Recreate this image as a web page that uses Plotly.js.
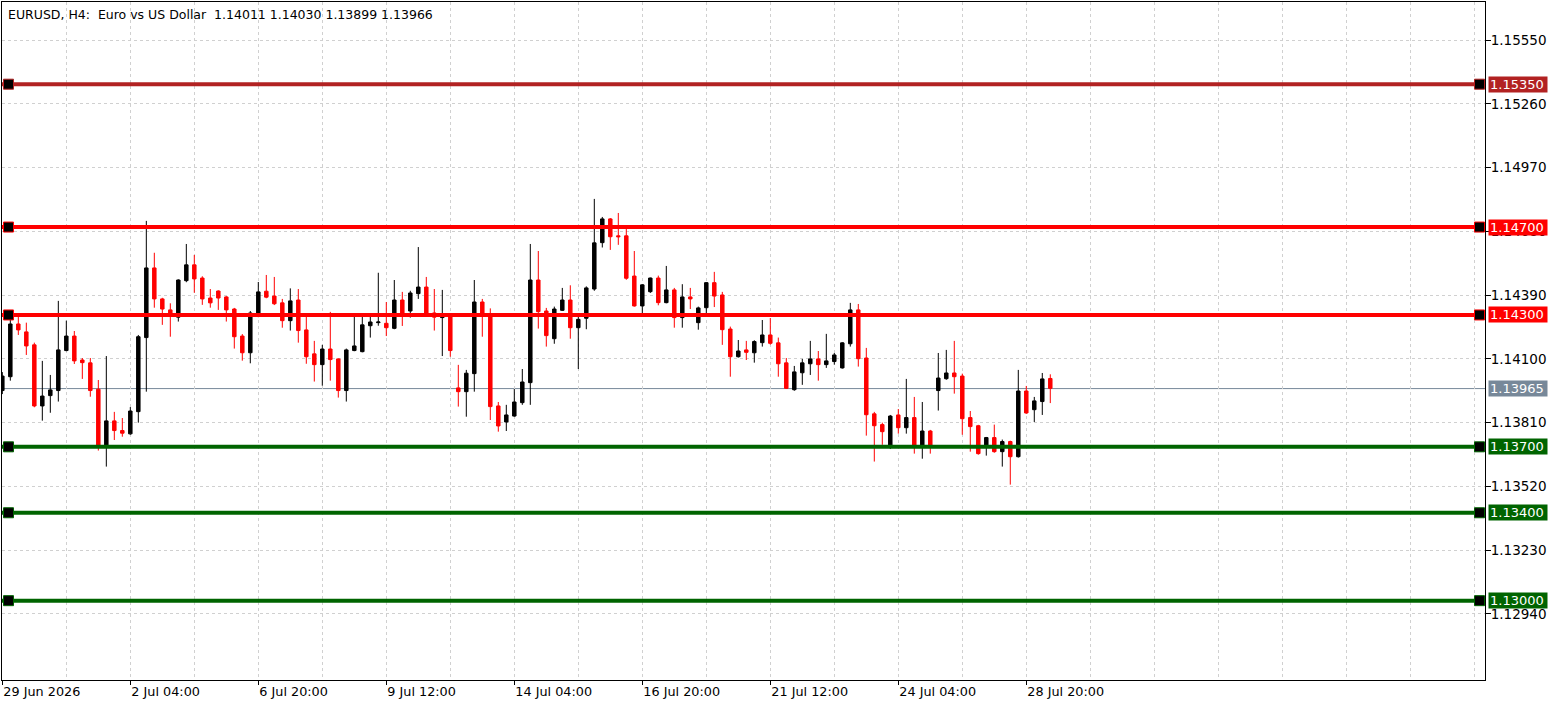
<!DOCTYPE html>
<html><head><meta charset="utf-8">
<script src="https://cdn.plot.ly/plotly-3.0.1.min.js"></script>
<style>html,body{margin:0;padding:0;background:#fff;overflow:hidden;} #chart{width:1563px;height:706px;}</style>
</head><body><div id="chart"></div>
<script>
// H4 candles, EURUSD
const openP = [1.13956,1.14019,1.14259,1.14223,1.14164,1.13886,1.13933,1.13956,1.14138,1.14204,
1.14095,1.14082,1.13962,1.13701,1.13818,1.13774,1.13759,1.13860,1.14197,1.14514,
1.14373,1.14323,1.14290,1.14456,1.14528,1.14468,1.14377,1.14409,1.14382,1.14327,
1.14204,1.14128,1.14309,1.14408,1.14386,1.14355,1.14274,1.14368,1.14232,1.14123,
1.14074,1.14145,1.14100,1.13956,1.14138,1.14133,1.14251,1.14265,1.14262,1.14239,
1.14368,1.14318,1.14397,1.14427,1.14309,1.14288,1.14295,1.13968,1.13951,1.14033,
1.14359,1.14295,1.13886,1.13813,1.13840,1.13901,1.13992,1.14459,1.14318,1.14192,
1.14321,1.14368,1.14242,1.14285,1.14418,1.14629,1.14737,1.14660,1.14660,1.14477,
1.14341,1.14406,1.14468,1.14356,1.14414,1.14288,1.14382,1.14265,1.14333,1.14447,
1.14391,1.14236,1.14110,1.14141,1.14128,1.14174,1.14209,1.14173,1.14082,1.13960,
1.14037,1.14078,1.14100,1.14074,1.14088,1.14059,1.14169,1.14323,1.14104,1.13850,
1.13801,1.13699,1.13845,1.13787,1.13833,1.13699,1.13772,1.13956,1.14010,1.14036,
1.14022,1.13833,1.13796,1.13699,1.13742,1.13678,1.13724,1.13655,1.13954,1.13869,
1.13906,1.14011];
const highP = [1.14040,1.14277,1.14292,1.14265,1.14174,1.14091,1.14027,1.14364,1.14274,1.14227,
1.14104,1.14104,1.14004,1.14113,1.13859,1.13831,1.13881,1.14209,1.14728,1.14583,
1.14378,1.14353,1.14462,1.14623,1.14573,1.14476,1.14418,1.14412,1.14386,1.14332,
1.14213,1.14318,1.14450,1.14482,1.14473,1.14373,1.14421,1.14418,1.14291,1.14182,
1.14164,1.14314,1.14102,1.14147,1.14291,1.14300,1.14295,1.14492,1.14359,1.14459,
1.14405,1.14410,1.14609,1.14473,1.14418,1.14414,1.14300,1.14073,1.14050,1.14459,
1.14373,1.14330,1.13904,1.13891,1.13963,1.14054,1.14623,1.14591,1.14332,1.14338,
1.14423,1.14435,1.14305,1.14430,1.14828,1.14746,1.14741,1.14764,1.14691,1.14591,
1.14440,1.14470,1.14479,1.14523,1.14423,1.14440,1.14423,1.14338,1.14450,1.14496,
1.14405,1.14247,1.14186,1.14182,1.14185,1.14277,1.14286,1.14197,1.14104,1.14068,
1.14100,1.14182,1.14136,1.14214,1.14127,1.14176,1.14355,1.14350,1.14150,1.13859,
1.13810,1.13845,1.13872,1.14009,1.13927,1.13904,1.13777,1.14127,1.14141,1.14182,
1.14033,1.13863,1.13800,1.13745,1.13801,1.13733,1.13728,1.14050,1.13977,1.13927,
1.14036,1.14030];
const lowP = [1.13940,1.14001,1.14209,1.14118,1.13880,1.13819,1.13855,1.13906,1.14135,1.14077,
1.14009,1.13928,1.13683,1.13610,1.13731,1.13746,1.13755,1.13810,1.13951,1.14333,
1.14255,1.14201,1.14270,1.14449,1.14401,1.14346,1.14333,1.14323,1.14270,1.14147,
1.14092,1.14080,1.14290,1.14376,1.14345,1.14242,1.14229,1.14174,1.14078,1.13997,
1.13978,1.14001,1.13924,1.13906,1.14135,1.14130,1.14197,1.14251,1.14204,1.14235,
1.14250,1.14288,1.14373,1.14295,1.14229,1.14113,1.14110,1.13883,1.13837,1.13951,
1.14201,1.13822,1.13769,1.13772,1.13837,1.13891,1.13891,1.14238,1.14156,1.14169,
1.14318,1.14192,1.14054,1.14235,1.14410,1.14607,1.14596,1.14619,1.14460,1.14338,
1.14308,1.14400,1.14344,1.14353,1.14242,1.14242,1.14327,1.14233,1.14308,1.14336,
1.14164,1.14019,1.14106,1.14095,1.14083,1.14156,1.14165,1.14019,1.13963,1.13955,
1.13982,1.14027,1.14001,1.14059,1.14074,1.14056,1.14156,1.14065,1.13751,1.13633,
1.13709,1.13690,1.13760,1.13760,1.13669,1.13646,1.13669,1.13865,1.14005,1.13942,
1.13755,1.13678,1.13664,1.13660,1.13673,1.13610,1.13528,1.13651,1.13850,1.13813,
1.13845,1.13899];
const closeP = [1.14022,1.14259,1.14232,1.14159,1.13886,1.13931,1.13959,1.14141,1.14204,1.14091,
1.14083,1.13956,1.13701,1.13818,1.13774,1.13762,1.13863,1.14201,1.14514,1.14373,
1.14327,1.14300,1.14459,1.14528,1.14464,1.14373,1.14355,1.14377,1.14323,1.14201,
1.14128,1.14309,1.14405,1.14381,1.14351,1.14274,1.14364,1.14229,1.14110,1.14074,
1.14145,1.14097,1.13956,1.14141,1.14159,1.14255,1.14268,1.14268,1.14242,1.14368,
1.14300,1.14400,1.14427,1.14305,1.14290,1.14292,1.14138,1.13951,1.14035,1.14359,
1.14308,1.13883,1.13795,1.13845,1.13904,1.13995,1.14459,1.14315,1.14206,1.14327,
1.14368,1.14242,1.14280,1.14423,1.14628,1.14737,1.14656,1.14656,1.14467,1.14341,
1.14437,1.14468,1.14356,1.14414,1.14288,1.14382,1.14373,1.14332,1.14447,1.14386,
1.14233,1.14110,1.14136,1.14130,1.14179,1.14209,1.14171,1.14078,1.13966,1.14041,
1.14082,1.14100,1.14074,1.14091,1.14118,1.14173,1.14323,1.14101,1.13846,1.13796,
1.13769,1.13840,1.13787,1.13833,1.13704,1.13772,1.13704,1.14013,1.14036,1.14019,
1.13828,1.13792,1.13669,1.13742,1.13678,1.13724,1.13655,1.13954,1.13854,1.13909,
1.14009,1.13966];

const timeTickIndex = [0,16,32,48,64,80,96,112,128];
const timeTickLabels = ['29 Jun 2026','2 Jul 04:00','6 Jul 20:00','9 Jul 12:00','14 Jul 04:00','16 Jul 20:00','21 Jul 12:00','24 Jul 04:00','28 Jul 20:00'];
const priceTicks = [1.15550,1.15260,1.14970,1.14680,1.14390,1.14100,1.13810,1.13520,1.13230,1.12940];
const levelPrices = [1.15350,1.14700,1.14300,1.13700,1.13400,1.13000];
const levelColors = ['#B22222','#FF0000','#FF0000','#006400','#006400','#006400'];
const bidPrice = 1.13965;
const bidColor = '#778899';
const titleText = 'EURUSD, H4:\u00A0\u00A0Euro vs US Dollar\u00A0\u00A01.14011 1.14030 1.13899 1.13966';

const xIdx = openP.map((_, i) => i);
const FONT = 'DejaVu Sans, Tahoma, sans-serif';
const GRID = '#d0d0d0';

const trace = {
  type: 'candlestick',
  x: xIdx, open: openP, high: highP, low: lowP, close: closeP,
  increasing: {line: {color: '#000000', width: 1}, fillcolor: '#000000'},
  decreasing: {line: {color: '#FF0000', width: 1}, fillcolor: '#FF0000'},
  whiskerwidth: 0,
  hoverinfo: 'skip'
};

const shapes = [];
const annotations = [];
// bid line
shapes.push({type:'line', xref:'paper', x0:0, x1:1, yref:'y', y0:bidPrice, y1:bidPrice,
  line:{color:bidColor, width:1}, layer:'below'});
annotations.push({xref:'paper', x:1, xanchor:'left', xshift:3, yref:'y', y:bidPrice, yanchor:'middle',
  text: bidPrice.toFixed(5), showarrow:false, bgcolor:bidColor, font:{family:FONT, size:13, color:'#fff'},
  width:56, height:13, align:'left', borderpad:1});

levelPrices.forEach((p, i) => {
  const c = levelColors[i];
  shapes.push({type:'line', xref:'paper', x0:0, x1:1, yref:'y', y0:p, y1:p, line:{color:c, width:4}});
  shapes.push({type:'rect', xref:'paper', xsizemode:'pixel', xanchor:0, x0:1.5, x1:11.5,
    yref:'y', ysizemode:'pixel', yanchor:p, y0:-5, y1:5, fillcolor:'#000', line:{color:c, width:1}});
  shapes.push({type:'rect', xref:'paper', xsizemode:'pixel', xanchor:1, x0:-10.5, x1:-0.5,
    yref:'y', ysizemode:'pixel', yanchor:p, y0:-5, y1:5, fillcolor:'#000', line:{color:c, width:1}});
  annotations.push({xref:'paper', x:1, xanchor:'left', xshift:3, yref:'y', y:p, yanchor:'middle',
    text: p.toFixed(5), showarrow:false, bgcolor:c, font:{family:FONT, size:13, color:'#fff'},
    width:56, height:13, align:'left', borderpad:1});
});

annotations.push({xref:'paper', x:0, xanchor:'left', xshift:4, yref:'paper', y:1, yanchor:'top', yshift:-3,
  text: titleText, showarrow:false, font:{family:FONT, size:12.5, color:'#000'}, align:'left'});

const layout = {
  width:1563, height:706,
  margin:{l:2, r:78, t:2, b:26, pad:0},
  paper_bgcolor:'#ffffff', plot_bgcolor:'#ffffff',
  showlegend:false,
  boxgap:0.38,
  xaxis:{
    range:[-0.04, 185.34], tickmode:'array', tickvals: timeTickIndex, ticktext: timeTickLabels,
    ticks:'outside', ticklen:4, tickcolor:'#000', tickwidth:1,
    showline:true, mirror:true, linecolor:'#000', linewidth:1,
    showgrid:true, gridcolor:GRID, griddash:'3px,3px', gridwidth:1, zeroline:false,
    ticklabelposition:'outside right',
    tickfont:{family:FONT, size:12.8, color:'#000'},
    minor:{tickmode:'linear', tick0:0, dtick:8, showgrid:true, gridcolor:GRID, griddash:'3px,3px', gridwidth:1, ticks:''},
    rangeslider:{visible:false}, fixedrange:true
  },
  yaxis:{
    side:'right', range:[1.12639, 1.15724], tickmode:'array', tickvals: priceTicks,
    ticktext: priceTicks.map(v => v.toFixed(5)),
    ticks:'outside', ticklen:5, tickcolor:'#000', tickwidth:1,
    ticklabelstandoff:-3,
    showline:true, mirror:true, linecolor:'#000', linewidth:1,
    showgrid:true, gridcolor:GRID, griddash:'3px,3px', gridwidth:1, zeroline:false,
    tickfont:{family:FONT, size:13.5, color:'#000'}, fixedrange:true
  },
  shapes: shapes,
  annotations: annotations
};

Plotly.newPlot('chart', [trace], layout, {displayModeBar:false, staticPlot:true});
</script>
</body></html>
